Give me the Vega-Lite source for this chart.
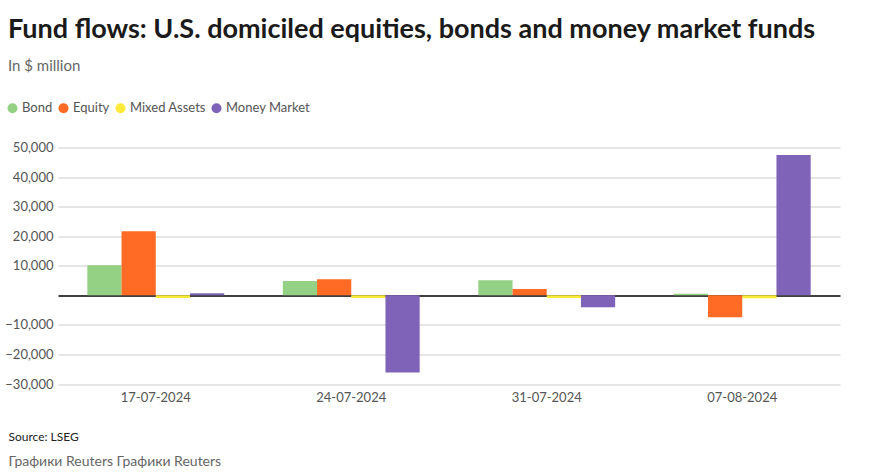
{
  "$schema": "https://vega.github.io/schema/vega-lite/v6.json",
  "autosize": "none",
  "width": 782,
  "height": 236.5,
  "padding": {"left": 58, "top": 147.5, "right": 54, "bottom": 89},
  "background": "white",
  "config": {
    "font": "Lato",
    "view": {"stroke": null}
  },
  "title": {
    "text": "Fund flows: U.S. domiciled equities, bonds and money market funds",
    "subtitle": "In $ million",
    "anchor": "start",
    "frame": "group",
    "dx": -50,
    "offset": 27,
    "fontSize": 27,
    "fontWeight": "bold",
    "color": "#1a1a1a",
    "subtitleFontSize": 15,
    "subtitleColor": "#666666",
    "subtitlePadding": 15
  },
  "data": {
    "values": [
      {"date": "17-07-2024", "type": "Bond", "value": 10200},
      {"date": "17-07-2024", "type": "Equity", "value": 21700},
      {"date": "17-07-2024", "type": "Mixed Assets", "value": -900},
      {"date": "17-07-2024", "type": "Money Market", "value": 700},
      {"date": "24-07-2024", "type": "Bond", "value": 4800},
      {"date": "24-07-2024", "type": "Equity", "value": 5400},
      {"date": "24-07-2024", "type": "Mixed Assets", "value": -900},
      {"date": "24-07-2024", "type": "Money Market", "value": -26100},
      {"date": "31-07-2024", "type": "Bond", "value": 5100},
      {"date": "31-07-2024", "type": "Equity", "value": 2100},
      {"date": "31-07-2024", "type": "Mixed Assets", "value": -900},
      {"date": "31-07-2024", "type": "Money Market", "value": -4000},
      {"date": "07-08-2024", "type": "Bond", "value": 500},
      {"date": "07-08-2024", "type": "Equity", "value": -7400},
      {"date": "07-08-2024", "type": "Mixed Assets", "value": -1000},
      {"date": "07-08-2024", "type": "Money Market", "value": 47500}
    ]
  },
  "mark": {"type": "bar"},
  "encoding": {
    "x": {
      "field": "date",
      "type": "nominal",
      "sort": null,
      "scale": {"paddingInner": 0.3, "paddingOuter": 0.15},
      "axis": {
        "labelAngle": 0,
        "ticks": false,
        "domain": false,
        "labelPadding": 7,
        "labelFontSize": 13,
        "labelColor": "#555555",
        "title": "Графики Reuters Графики Reuters",
        "titleFontSize": 14,
        "titleFontWeight": "normal",
        "titleColor": "#666666",
        "titleAnchor": "start",
        "titleAlign": "left",
        "titleBaseline": "middle",
        "titleX": -50,
        "titleY": 77
      }
    },
    "xOffset": {"field": "type", "type": "nominal", "sort": ["Bond", "Equity", "Mixed Assets", "Money Market"]},
    "y": {
      "field": "value",
      "type": "quantitative",
      "scale": {"domain": [-30000, 50000], "nice": false},
      "axis": {
        "values": [-30000, -20000, -10000, 0, 10000, 20000, 30000, 40000, 50000],
        "format": ",d",
        "labelExpr": "datum.value === 0 ? '' : datum.label",
        "labelOverlap": false,
        "ticks": false,
        "domain": false,
        "grid": true,
        "gridColor": {"condition": {"test": "datum.value === 0", "value": "#000000"}, "value": "#cccccc"},
        "gridWidth": {"condition": {"test": "datum.value === 0", "value": 1.5}, "value": 1},
        "labelPadding": 5,
        "labelFontSize": 13,
        "labelColor": "#555555",
        "title": "Source: LSEG",
        "titleAngle": 0,
        "titleFontSize": 12,
        "titleFontWeight": "normal",
        "titleColor": "#222222",
        "titleAlign": "left",
        "titleBaseline": "middle",
        "titleX": -50,
        "titleY": 288.5
      }
    },
    "color": {
      "field": "type",
      "type": "nominal",
      "scale": {
        "domain": ["Bond", "Equity", "Mixed Assets", "Money Market"],
        "range": ["#94d184", "#ff6a24", "#ffea3a", "#7f63b8"]
      },
      "legend": {
        "title": null,
        "orient": "none",
        "direction": "horizontal",
        "legendX": -52,
        "legendY": -46,
        "symbolType": "circle",
        "symbolSize": 100,
        "symbolOpacity": 1,
        "symbolStrokeWidth": 0,
        "labelFontSize": 13,
        "labelColor": "#555555",
        "labelOffset": 3,
        "columnPadding": 4
      }
    }
  }
}
